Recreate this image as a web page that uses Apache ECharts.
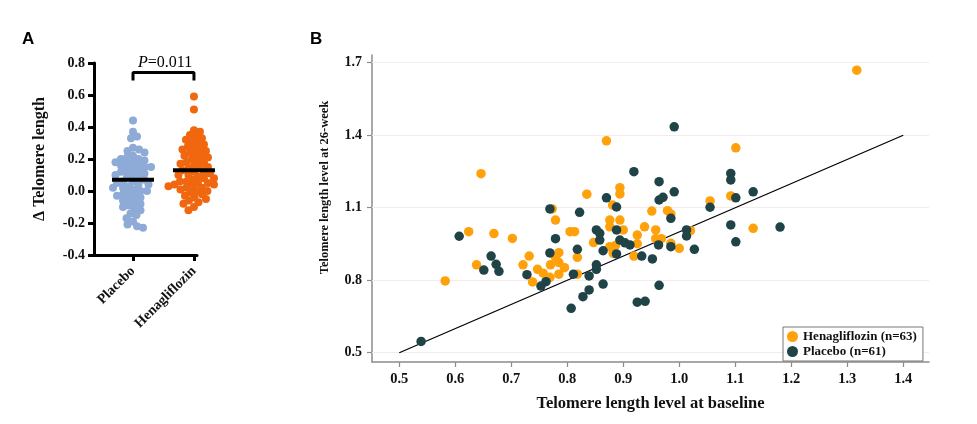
<!DOCTYPE html>
<html>
<head>
<meta charset="utf-8">
<script src="https://cdn.jsdelivr.net/npm/echarts@6/dist/echarts.min.js"></script>
<style>html,body{margin:0;padding:0;background:#fff}#c{width:977px;height:424px}</style>
</head>
<body>
<div id="c"></div>
<script>
// ---------- Panel A data ----------
const categoriesA = ['Placebo', 'Henagliflozin'];
const placeboDelta = [0.44, 0.37, 0.34, 0.33, 0.27, 0.26, 0.25, 0.24, 0.22, 0.21, 0.20, 0.20, 0.19, 0.18, 0.18, 0.17, 0.16, 0.16, 0.15, 0.15, 0.14, 0.13, 0.12, 0.12, 0.11, 0.10, 0.10, 0.09, 0.08, 0.07, 0.06, 0.06, 0.05, 0.04, 0.04, 0.03, 0.02, 0.02, 0.01, 0.00, 0.00, -0.01, -0.02, -0.03, -0.03, -0.04, -0.05, -0.06, -0.07, -0.08, -0.09, -0.10, -0.11, -0.12, -0.14, -0.15, -0.17, -0.19, -0.21, -0.22, -0.23];
const henaDelta = [0.59, 0.51, 0.38, 0.37, 0.35, 0.34, 0.33, 0.32, 0.31, 0.30, 0.29, 0.28, 0.27, 0.26, 0.26, 0.25, 0.24, 0.23, 0.22, 0.22, 0.21, 0.20, 0.19, 0.18, 0.18, 0.17, 0.16, 0.15, 0.15, 0.14, 0.13, 0.12, 0.12, 0.11, 0.10, 0.10, 0.09, 0.08, 0.08, 0.07, 0.06, 0.06, 0.05, 0.05, 0.04, 0.04, 0.03, 0.03, 0.02, 0.02, 0.01, 0.00, 0.00, -0.01, -0.02, -0.03, -0.04, -0.05, -0.06, -0.07, -0.08, -0.10, -0.12];
const meanDelta = [0.07, 0.13];
const bracketLevels = [0.69, 0.74];
const pText = '0.011';

// ---------- Panel B data ----------
const henaBaseline = [0.870, 0.646, 0.894, 0.894, 0.835, 0.881, 0.773, 0.779, 0.951, 0.876, 0.894, 0.876, 0.938, 0.958, 0.900, 0.805, 0.813, 0.925, 0.624, 0.669, 0.702, 0.638, 0.582, 0.732, 0.721, 0.738, 0.747, 0.757, 0.769, 0.770, 0.779, 0.785, 0.785, 0.785, 0.795, 0.818, 0.818, 0.847, 0.876, 0.886, 0.919, 0.925, 0.958, 0.968, 1.101, 1.055, 1.092, 0.979, 0.985, 0.985, 1.000, 1.020, 1.132, 1.317, 0.882];
const hena26w     = [1.377, 1.241, 1.183, 1.157, 1.156, 1.111, 1.095, 1.049, 1.086, 1.049, 1.049, 1.021, 1.021, 1.008, 1.008, 1.001, 1.001, 0.987, 1.001, 0.993, 0.973, 0.864, 0.797, 0.900, 0.864, 0.793, 0.845, 0.829, 0.812, 0.864, 0.895, 0.914, 0.873, 0.825, 0.852, 0.895, 0.825, 0.956, 0.939, 0.944, 0.900, 0.951, 0.972, 0.972, 1.348, 1.128, 1.149, 1.088, 1.074, 0.953, 0.932, 1.005, 1.015, 1.669, 0.911];
const placeboBaseline = [0.919, 0.964, 0.964, 0.870, 0.888, 0.769, 0.822, 0.888, 0.852, 0.858, 0.607, 0.779, 0.664, 0.651, 0.673, 0.678, 0.728, 0.753, 0.762, 0.769, 0.818, 0.811, 0.807, 0.828, 0.839, 0.839, 0.852, 0.852, 0.864, 0.864, 0.858, 0.888, 0.894, 0.903, 0.912, 0.933, 0.952, 0.963, 0.964, 0.925, 0.939, 0.539, 0.991, 1.092, 1.092, 0.971, 0.991, 1.055, 1.101, 1.132, 0.985, 0.985, 1.013, 1.013, 1.027, 1.092, 1.180, 1.101];
const placebo26w     = [1.249, 1.208, 1.132, 1.141, 1.103, 1.095, 1.081, 1.008, 1.008, 0.994, 0.982, 0.972, 0.900, 0.842, 0.866, 0.837, 0.823, 0.776, 0.794, 0.913, 0.928, 0.825, 0.684, 0.732, 0.760, 0.818, 0.845, 0.864, 0.784, 0.922, 0.966, 0.909, 0.966, 0.955, 0.946, 0.900, 0.888, 0.946, 0.779, 0.709, 0.713, 0.547, 1.435, 1.242, 1.215, 1.143, 1.166, 1.102, 1.141, 1.166, 1.056, 0.939, 1.008, 0.983, 0.928, 1.029, 1.020, 0.959];
const legendB = ['Henagliflozin (n=63)', 'Placebo (n=61)'];
const xTicksB = [0.5, 0.6, 0.7, 0.8, 0.9, 1.0, 1.1, 1.2, 1.3, 1.4];
const yTicksB = [0.5, 0.8, 1.1, 1.4, 1.7];
const refLine = [0.5, 1.4];

// ---------- layout constants ----------
const SERIF = 'Liberation Serif';
const gA = {left: 94, top: 63, width: 103, height: 192};
const xA = {min: -0.64, max: 1.05};
const yA = {min: -0.4, max: 0.8};
const dotA = 8;

// deterministic symmetric beeswarm layout (pixel collision, converted back to axis units)
function swarm(values, center) {
  const pxPerX = gA.width / (xA.max - xA.min);
  const pxPerY = gA.height / (yA.max - yA.min);
  const order = values.map((v, i) => i).sort((a, b) => values[b] - values[a]);
  const placed = [];
  const out = new Array(values.length);
  const d = dotA * 0.76;
  let flip = 1;
  const free = (off, y) => placed.every(p => (p[0] - off) ** 2 + (p[1] - y) ** 2 >= d * d);
  order.forEach(i => {
    const y = values[i] * pxPerY;
    let best = 0;
    for (let k = 0; k < 120; k++) {
      const m = k * 0.5;
      const a = free(flip * m, y), b = free(-flip * m, y);
      if (a || b) { best = a ? flip * m : -flip * m; break; }
    }
    if (best !== 0) flip = -flip;
    placed.push([best, y]);
    out[i] = [center + best / pxPerX, values[i]];
  });
  return out;
}

const chart = echarts.init(document.getElementById('c'), null, {renderer: 'canvas'});
const labelBold = {fontFamily: SERIF, fontWeight: 'bold', color: '#111'};

chart.setOption({
  backgroundColor: '#fff',
  animation: false,
  textStyle: {fontFamily: SERIF},
  title: [
    {text: 'A', left: 17, top: 26, textStyle: {fontFamily: 'Liberation Sans', fontWeight: 'bold', fontSize: 17, color: '#000'}},
    {text: 'B', left: 305, top: 26, textStyle: {fontFamily: 'Liberation Sans', fontWeight: 'bold', fontSize: 17, color: '#000'}},
    {text: '{i|P}=' + pText, left: 133, top: 50,
      textStyle: {fontFamily: SERIF, fontSize: 16, fontWeight: 'normal', color: '#000',
        rich: {i: {fontFamily: SERIF, fontStyle: 'italic', fontSize: 16, color: '#000'}}}}
  ],
  legend: {
    data: legendB,
    orient: 'vertical', left: 783, top: 327,
    itemWidth: 11, itemHeight: 11, itemGap: 2, icon: 'circle',
    padding: [3, 6, 3, 4],
    borderColor: '#777', borderWidth: 1, backgroundColor: '#fff',
    textStyle: {fontFamily: SERIF, fontWeight: 'bold', fontSize: 13, color: '#111'}
  },
  grid: [
    gA,
    {left: 372, top: 55, width: 557, height: 307}
  ],
  xAxis: [
    {
      type: 'value', gridIndex: 0, min: xA.min, max: xA.max,
      splitLine: {show: false},
      axisLine: {onZero: false, lineStyle: {color: '#000', width: 3}},
      axisTick: {show: true, length: 6, lineStyle: {color: '#000', width: 3}, customValues: [0, 1]},
      axisLabel: Object.assign({customValues: [0, 1], rotate: 45, fontSize: 14, margin: 14,
        formatter: v => categoriesA[Math.round(v)] || ''}, labelBold)
    },
    {
      type: 'value', gridIndex: 1, min: 0.4513, max: 1.446,
      name: 'Telomere length level at baseline', nameLocation: 'middle', nameGap: 33,
      nameTextStyle: Object.assign({fontSize: 16.5}, labelBold),
      splitLine: {show: false},
      axisLine: {onZero: false, lineStyle: {color: '#8c8c8c', width: 1.5}},
      axisTick: {show: true, length: 5, lineStyle: {color: '#8c8c8c', width: 1.2}, customValues: xTicksB},
      axisLabel: Object.assign({customValues: xTicksB, fontSize: 14.5, margin: 10,
        formatter: v => v.toFixed(1)}, labelBold)
    }
  ],
  yAxis: [
    {
      type: 'value', gridIndex: 0, min: yA.min, max: yA.max, interval: 0.2,
      name: 'Δ Telomere length', nameLocation: 'middle', nameGap: 46,
      nameTextStyle: Object.assign({fontSize: 16}, labelBold),
      splitLine: {show: false},
      axisLine: {show: true, onZero: false, lineStyle: {color: '#000', width: 3}},
      axisTick: {show: true, length: 6, lineStyle: {color: '#000', width: 3}},
      axisLabel: Object.assign({fontSize: 14, margin: 9, formatter: v => v.toFixed(1)}, labelBold)
    },
    {
      type: 'value', gridIndex: 1, min: 0.4617, max: 1.732,
      name: 'Telomere length level at 26-week', nameLocation: 'middle', nameGap: 41,
      nameTextStyle: Object.assign({fontSize: 12.5, padding: [0, 0, 0, 42]}, labelBold),
      splitLine: {show: false},
      axisLine: {show: true, onZero: false, lineStyle: {color: '#8c8c8c', width: 1.5}},
      axisTick: {show: true, length: 5, lineStyle: {color: '#8c8c8c', width: 1.2}, customValues: yTicksB},
      axisLabel: Object.assign({customValues: yTicksB, fontSize: 14, margin: 10,
        formatter: v => v.toFixed(1)}, labelBold)
    }
  ],
  series: [
    // Panel A swarms
    {type: 'scatter', xAxisIndex: 0, yAxisIndex: 0, symbolSize: dotA, silent: true, clip: false,
      itemStyle: {color: '#8eaad6', opacity: 1}, data: swarm(placeboDelta, 0), z: 2},
    {type: 'scatter', xAxisIndex: 0, yAxisIndex: 0, symbolSize: dotA, silent: true, clip: false,
      itemStyle: {color: '#f0670f', opacity: 1}, data: swarm(henaDelta, 1), z: 2},
    // mean bars
    {type: 'scatter', xAxisIndex: 0, yAxisIndex: 0, symbol: 'rect', symbolSize: [42, 4], silent: true, clip: false,
      itemStyle: {color: '#000', opacity: 1}, data: meanDelta.map((m, i) => [i, m]), z: 5},
    // significance bracket
    {type: 'line', xAxisIndex: 0, yAxisIndex: 0, symbol: 'none', silent: true, clip: false,
      lineStyle: {color: '#000', width: 3}, z: 5,
      data: [[0, bracketLevels[0]], [0, bracketLevels[1]], [1, bracketLevels[1]], [1, bracketLevels[0]]]},
    // Panel B: grid lines + reference line
    {type: 'line', xAxisIndex: 1, yAxisIndex: 1, symbol: 'none', silent: true, z: 3,
      lineStyle: {color: '#000', width: 1.3},
      data: [[refLine[0], refLine[0]], [refLine[1], refLine[1]]],
      markLine: {silent: true, symbol: 'none', label: {show: false}, z: 1,
        lineStyle: {color: '#f4ecec', width: 1.2, type: 'solid'},
        data: yTicksB.map(v => ({yAxis: v}))}},
    {name: legendB[0], type: 'scatter', xAxisIndex: 1, yAxisIndex: 1, symbolSize: 9.5, silent: true, z: 4,
      itemStyle: {color: '#ffa10a', opacity: 1}, data: henaBaseline.map((x, i) => [x, hena26w[i]])},
    {name: legendB[1], type: 'scatter', xAxisIndex: 1, yAxisIndex: 1, symbolSize: 9.5, silent: true, z: 4,
      itemStyle: {color: '#1f4346', opacity: 1}, data: placeboBaseline.map((x, i) => [x, placebo26w[i]])}
  ]
});
</script>
</body>
</html>
